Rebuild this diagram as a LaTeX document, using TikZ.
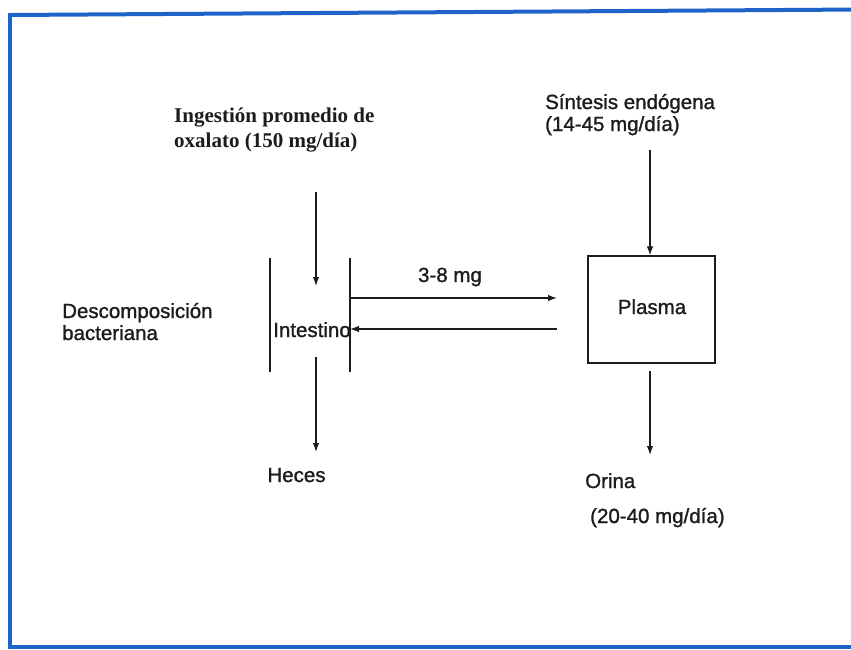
\documentclass[tikz,border=0pt]{standalone}
\usepackage{fontspec}
\setmainfont{Liberation Serif}
\newfontfamily\arialf[AutoFakeBold=1.2]{Liberation Sans}
\newfontfamily\timesb{Liberation Serif Bold}
\usetikzlibrary{arrows.meta}
\definecolor{framec}{RGB}{30,100,200}
\definecolor{ink}{RGB}{28,28,28}
\tikzset{
  sanslbl/.style={font=\arialf\bfseries\fontsize{20.5}{24}\selectfont, text=ink, inner sep=0pt},
  seriflbl/.style={font=\timesb\fontsize{21}{26}\selectfont, text=ink, inner sep=0pt},
  flow/.style={draw=ink, line width=1.3pt, -{Latex[length=9pt,width=6.5pt]}},
  wall/.style={draw=ink, line width=1.3pt},
}
\begin{document}
\begin{tikzpicture}[x=1pt,y=-1pt]
\useasboundingbox (0,0) rectangle (851,649);
\fill[white] (0,0) rectangle (851,649);
% frame
\draw[framec, line width=4pt] (9.5,15) -- (860,9.5);
\draw[framec, line width=4pt] (9.5,13) -- (9.5,646.5) -- (860,646.5);

% texts
\node[seriflbl, anchor=base west] (ing1) at (174,122) {Ingestión promedio de};
\node[seriflbl, anchor=base west] (ing2) at (174,147) {oxalato (150 mg/día)};
\node[sanslbl, anchor=base west] (sin1) at (545,109) {Síntesis endógena};
\node[sanslbl, anchor=base west] (sin2) at (545,131) {(14-45 mg/día)};
\node[sanslbl, anchor=base west] (desc1) at (62,318) {Descomposición};
\node[sanslbl, anchor=base west] (desc2) at (62,340) {bacteriana};
\node[sanslbl, anchor=base] (int) at (312,337) {Intestino};
\node[draw=ink, line width=1.3pt, minimum width=127pt, minimum height=107pt, inner sep=0pt] (plasma) at (651.5,309.5) {};
\node[sanslbl, anchor=base] (pl) at (652,314) {Plasma};
\node[sanslbl, anchor=base] (heces) at (296.5,482) {Heces};
\node[sanslbl, anchor=base west] (orina) at (585,488) {Orina};
\node[sanslbl, anchor=base west] (orq) at (590,523) {(20-40 mg/día)};
\node[sanslbl, anchor=base] (lbl38) at (450,282) {3-8 mg};

% intestine walls
\coordinate (wl1) at (270,258); \coordinate (wl2) at (270,372);
\coordinate (wr1) at (350,258); \coordinate (wr2) at (350,372);
\draw[wall] (wl1) -- (wl2);
\draw[wall] (wr1) -- (wr2);

% arrows
\coordinate (a1s) at (316,192); \coordinate (a1e) at (316,286);
\draw[flow] (a1s) -- (a1e);
\coordinate (a2s) at (350,298); \coordinate (a2e) at (557,298);
\draw[flow] (a2s) -- (a2e);
\coordinate (a3s) at (557,329); \coordinate (a3e) at (350,329);
\draw[flow] (a3s) -- (a3e);
\coordinate (a4s) at (650,150);
\draw[flow] (a4s) -- (plasma.north -| a4s);
\coordinate (a5s) at (650,371); \coordinate (a5e) at (650,455);
\draw[flow] (a5s) -- (a5e);
\coordinate (a6s) at (316,357); \coordinate (a6e) at (316,452);
\draw[flow] (a6s) -- (a6e);
\end{tikzpicture}
\end{document}
